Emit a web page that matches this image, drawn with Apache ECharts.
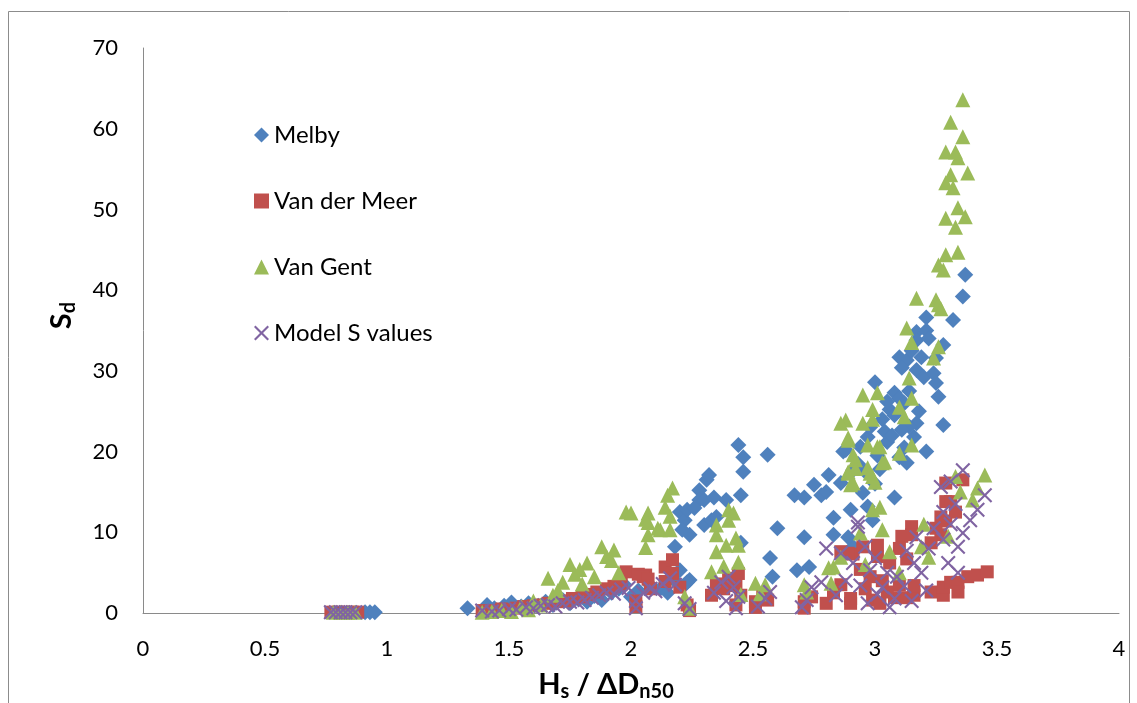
<!DOCTYPE html>
<html>
<head>
<meta charset="utf-8">
<script src="https://cdn.jsdelivr.net/npm/echarts@6/dist/echarts.min.js"></script>
<style>html,body{margin:0;padding:0;background:#fff;overflow:hidden}#c{width:1137px;height:703px}</style>
</head>
<body>
<div id="c"></div>
<script>
const seriesNames = ["Melby", "Van der Meer", "Van Gent", "Model S values"];
const xTicks = [0, 0.5, 1, 1.5, 2, 2.5, 3, 3.5, 4];
const yTicks = [0, 10, 20, 30, 40, 50, 60, 70];

const melby = [
[0.91,0.1],[0.93,0.1],[0.95,0.1],
[1.33,0.6],[1.41,1.0],[1.44,0.6],[1.48,0.9],[1.51,1.3],[1.55,0.8],[1.58,1.2],[1.62,0.9],[1.65,1.4],[1.68,1.0],[1.72,1.6],[1.75,1.2],[1.78,1.8],[1.82,1.4],[1.85,2.1],[1.88,1.6],[1.92,2.5],[1.95,3.0],[1.97,3.6],[2.0,2.0],[2.03,2.8],[2.08,3.4],[2.12,3.0],[2.15,2.5],[2.18,4.0],[2.2,5.3],[2.22,3.5],[2.24,4.1],[2.23,3.8],
[2.18,8.2],[2.2,12.5],[2.22,11.5],[2.24,9.7],[2.21,10.3],[2.23,12.8],[2.28,15.2],[2.31,16.5],[2.32,17.1],[2.28,14.0],[2.3,14.0],[2.34,14.3],[2.3,10.9],[2.33,11.5],[2.35,11.9],[2.39,14.0],[2.26,13.0],[2.45,14.6],[2.44,20.8],[2.46,19.3],[2.46,17.5],[2.56,19.6],[2.45,8.7],[2.6,10.5],[2.71,9.4],[2.57,6.8],[2.58,4.5],[2.68,5.3],[2.73,5.7],[2.67,14.6],[2.71,14.3],[2.75,15.9],[2.78,14.6],[2.8,15.0],[2.81,17.1],[2.86,16.1],[2.83,11.8],[2.87,20.0],[2.9,12.8],[2.83,9.7],[2.91,8.2],
[2.88,20.2],[2.91,17.7],[2.96,17.5],[2.94,20.6],[2.97,21.8],[3.05,21.2],[3.0,28.6],[3.08,27.3],[3.1,26.6],[3.12,26.0],[3.06,25.2],[3.08,24.5],[3.17,23.5],[3.14,23.1],[3.11,22.7],[3.28,23.3],[3.1,19.3],[3.13,18.6],[3.21,20.0],[3.08,14.3],[2.95,14.9],[2.99,11.5],[2.89,9.4],[3.1,31.7],[3.13,31.3],[3.19,31.7],[3.25,31.6],[3.11,30.4],[3.17,30.1],[3.2,29.2],[3.24,29.7],[3.25,28.5],[3.26,26.8],[3.17,34.8],[3.17,33.8],[3.21,36.6],[3.21,35.0],[3.22,34.0],[3.28,33.2],[3.32,36.3],[3.36,39.2],[3.37,41.9],[3.15,32.5],[3.03,24.0],[3.01,19.5],[3.04,22.5],[2.93,18.5],[3.0,16.0],[2.98,23.0],[3.05,26.2],[3.14,27.5],[3.18,25.0],[3.07,22.0],[3.12,20.5],[3.16,21.8],[3.02,17.8],[2.97,13.2]
];

const vanDerMeer = [
[0.77,0.1],[0.8,0.1],[0.83,0.1],[0.86,0.1],[0.88,0.1],
[1.39,0.3],[1.43,0.3],[1.47,0.5],[1.5,0.4],[1.53,0.6],[1.56,0.8],[1.6,0.9],[1.63,1.0],[1.66,1.2],[1.7,1.4],[1.73,1.5],[1.76,1.8],[1.8,2.0],[1.83,2.3],[1.86,2.6],[1.9,3.0],[1.93,3.3],[1.96,3.6],[1.98,5.1],[2.03,4.8],[2.06,4.7],[2.05,4.5],[2.07,4.2],[2.08,3.0],[2.02,0.8],[2.02,1.5],[2.14,5.7],[2.17,6.6],[2.17,4.9],[2.14,3.9],[2.2,3.2],[2.23,1.0],[2.24,0.3],[2.33,2.2],[2.35,3.6],[2.44,4.9],[2.43,3.4],[2.45,2.2],[2.43,1.0],[2.38,3.0],[2.4,4.3],[2.51,1.4],[2.56,1.6],[2.51,0.7],[2.54,2.3],[2.71,1.4],[2.74,2.0],[2.71,0.6],[2.8,1.2],[2.83,2.5],[2.86,7.6],[2.91,7.3],[2.86,3.5],[2.9,1.8],[2.89,7.4],[2.95,8.2],[3.01,8.4],[3.01,7.0],[3.06,6.2],[3.13,6.7],[2.98,4.5],[2.94,5.4],[2.9,1.2],[2.99,1.6],[3.02,1.2],[3.08,1.9],[3.13,1.9],[3.16,2.2],[3.16,3.4],[3.23,2.6],[3.28,2.2],[3.28,3.2],[3.31,3.8],[3.34,3.8],[3.34,2.6],[3.38,4.5],[3.42,4.7],[3.46,5.1],[3.15,10.7],[3.15,9.7],[3.11,9.5],[3.1,8.0],[3.29,16.1],[3.36,16.5],[3.29,13.8],[3.31,13.8],[3.29,11.4],[3.27,11.9],[3.27,9.7],[3.23,8.7],[3.25,10.5],[3.33,12.5],[3.03,4.0],[3.1,3.5],[3.05,2.6],[2.96,3.0]
];

const vanGent = [
[0.78,0.1],[0.81,0.1],[0.84,0.1],[0.87,0.1],
[1.39,0.1],[1.43,0.2],[1.47,0.3],[1.51,0.2],[1.55,0.8],[1.58,0.4],[1.6,1.5],[1.63,1.0],[1.66,4.3],[1.68,2.2],[1.72,3.8],[1.75,6.0],[1.7,2.8],[1.77,4.8],[1.8,3.6],[1.82,6.2],[1.79,5.4],[1.85,4.5],[1.88,8.2],[1.9,7.0],[1.93,7.8],[1.92,6.5],[1.95,5.0],
[1.98,12.5],[2.0,12.4],[2.07,12.4],[2.07,11.2],[2.07,9.7],[2.06,8.1],[2.11,10.5],[2.06,11.6],[2.12,10.3],[2.15,14.6],[2.17,15.5],[2.14,13.1],[2.16,12.0],[2.16,10.3],[2.22,2.0],[2.24,0.6],[2.35,10.9],[2.35,9.7],[2.4,12.8],[2.42,12.4],[2.4,11.5],[2.43,9.3],[2.35,7.6],[2.39,8.4],[2.44,8.4],[2.33,5.1],[2.44,6.3],[2.38,5.8],[2.51,3.7],[2.55,3.5],[2.53,2.4],[2.45,2.3],
[2.71,3.5],[2.72,2.6],[2.81,5.6],[2.83,5.7],[2.82,3.7],[2.86,6.9],[2.94,9.9],[3.03,10.3],[2.99,12.8],[3.02,13.1],[2.9,15.9],[3.0,16.2],[2.89,17.5],[2.97,18.0],[2.99,16.9],[3.04,18.7],[2.92,19.0],[2.92,17.9],[2.89,21.4],[2.97,20.8],[3.01,20.6],[2.88,23.9],[2.95,27.0],[3.01,27.3],[2.99,25.2],[2.99,24.0],[2.86,23.5],[2.89,21.7],[2.89,17.3],[2.91,16.1],[2.91,19.6],[3.1,25.5],[3.12,24.3],[2.95,23.5],[3.02,20.6],[3.03,18.6],[3.1,19.8],[3.15,20.8],[2.98,17.3],[3.15,26.6],[3.14,29.1],[3.13,35.3],[3.15,33.5],[3.26,33.0],[3.24,31.6],[3.17,39.0],[3.25,38.8],[3.26,38.2],[3.27,37.7],[3.26,43.1],[3.28,42.5],[3.29,44.4],[3.34,44.7],[3.33,47.8],[3.29,48.9],[3.37,49.1],[3.34,50.2],[3.32,52.7],[3.29,53.3],[3.31,54.3],[3.38,54.5],[3.34,56.4],[3.33,57.1],[3.29,57.1],[3.36,59.0],[3.31,60.8],[3.36,63.6],
[3.45,17.1],[3.42,15.5],[3.4,14.0],[3.33,16.9],[3.35,15.0],[3.19,8.2],[3.22,6.9],[3.06,7.6],[3.1,5.0],[2.96,6.0],[3.3,9.5],[3.2,11.0]
];

const modelS = [
[0.77,0.1],[0.79,0.1],[0.81,0.1],[0.83,0.1],[0.85,0.1],[0.87,0.1],
[1.39,0.3],[1.43,0.2],[1.46,0.3],[1.5,0.5],[1.53,0.4],[1.57,0.7],[1.6,0.6],[1.63,0.9],[1.66,1.0],[1.69,0.8],[1.72,1.2],[1.75,1.4],[1.78,1.3],[1.81,1.6],[1.84,1.9],[1.87,2.2],[1.9,2.5],[1.93,2.4],[1.96,2.9],[1.99,3.1],[2.02,0.6],[2.02,1.5],[2.05,2.5],[2.08,3.0],[2.1,2.7],[2.13,3.6],[2.16,4.3],[2.18,3.5],[2.22,1.2],[2.24,0.5],[2.34,2.5],[2.37,3.8],[2.4,4.5],[2.42,3.2],[2.44,2.0],[2.43,0.6],[2.39,1.5],[2.52,0.8],[2.55,1.8],[2.57,2.6],[2.7,0.7],[2.72,1.6],[2.74,3.2],[2.78,3.8],[2.8,8.0],[2.86,7.4],[2.93,10.7],[2.93,11.2],[2.84,2.2],[2.88,4.0],[2.91,6.2],[2.94,3.4],[2.96,8.2],[2.98,5.3],[3.0,6.8],[3.01,2.3],[3.03,3.2],[3.06,0.7],[3.05,5.0],[3.09,4.5],[3.12,3.3],[3.13,7.7],[3.16,6.2],[3.17,9.4],[3.21,2.8],[3.24,10.5],[3.27,15.6],[3.28,9.1],[3.31,11.0],[3.3,6.2],[3.34,5.0],[3.34,8.2],[3.36,9.9],[3.39,11.5],[3.42,12.8],[3.45,14.6],[3.31,16.3],[3.36,17.7],[3.33,13.5],[3.28,12.5],[3.19,5.0],[3.08,1.8],[2.97,1.2],[3.15,1.5],[3.22,8.0]
];

const crossPath = 'path://M0,1L1,0L5,4L9,0L10,1L6,5L10,9L9,10L5,6L1,10L0,9L4,5Z';
const FONT = 'Lato, "Open Sans", sans-serif';

const titleRich = {
  m: {fontSize: 29, fontWeight: 'bold', color: '#000', lineHeight: 34, fontFamily: FONT},
  s: {fontSize: 20, fontWeight: 'bold', color: '#000', lineHeight: 16, verticalAlign: 'bottom', fontFamily: FONT}
};

const chart = echarts.init(document.getElementById('c'), null, {renderer: 'canvas', width: 1137, height: 703});
chart.setOption({
  animation: false,
  backgroundColor: '#ffffff',
  textStyle: {fontFamily: FONT},
  graphic: [{
    type: 'rect', z: -1, silent: true,
    shape: {x: 8.5, y: 11.5, width: 1121, height: 720},
    style: {fill: 'none', stroke: '#8c8c8c', lineWidth: 1}
  }],
  grid: {left: 143, right: 18, top: 48, bottom: 90, containLabel: false, outerBoundsMode: 'none'},
  legend: {
    orient: 'vertical', left: 249, top: 118,
    itemWidth: 15, itemHeight: 15, itemGap: 42,
    textStyle: {fontSize: 24, color: '#000', fontFamily: FONT},
    data: seriesNames
  },
  xAxis: {
    type: 'value', min: xTicks[0], max: xTicks[xTicks.length - 1], interval: 0.5,
    axisLine: {show: true, onZero: false, lineStyle: {color: '#8a8a8a', width: 1}},
    axisTick: {show: false}, splitLine: {show: false},
    axisLabel: {fontSize: 22, color: '#000', margin: 25, fontFamily: FONT},
    name: '{m|H}{s|s}{m| / ΔD}{s|n50}', nameLocation: 'middle', nameGap: 55,
    nameTextStyle: {padding: [0, 50, 0, 0], rich: titleRich}
  },
  yAxis: {
    type: 'value', min: yTicks[0], max: yTicks[yTicks.length - 1], interval: 10,
    axisLine: {show: true, onZero: false, lineStyle: {color: '#8a8a8a', width: 1}},
    axisTick: {show: false}, splitLine: {show: false},
    axisLabel: {fontSize: 22, color: '#000', margin: 25, fontFamily: FONT},
    name: '{m|S}{s|d}', nameLocation: 'middle', nameGap: 64,
    nameTextStyle: {padding: [0, 0, 0, 30], rich: titleRich}
  },
  series: [
    {name: seriesNames[0], type: 'scatter', data: melby, symbol: 'diamond', symbolSize: 16,
     itemStyle: {color: '#4F81BD', opacity: 1}},
    {name: seriesNames[1], type: 'scatter', data: vanDerMeer, symbol: 'rect', symbolSize: 13,
     itemStyle: {color: '#C0504D', opacity: 1}},
    {name: seriesNames[2], type: 'scatter', data: vanGent, symbol: 'triangle', symbolSize: 15,
     itemStyle: {color: '#9BBB59', opacity: 1}},
    {name: seriesNames[3], type: 'scatter', data: modelS, symbol: crossPath, symbolSize: 15,
     itemStyle: {color: '#8064A2', opacity: 1}}
  ]
});
</script>
</body>
</html>
